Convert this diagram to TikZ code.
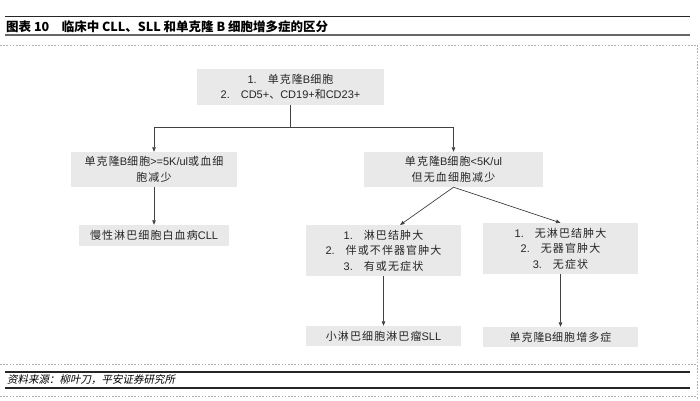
\documentclass[tikz,border=0pt]{standalone}
\usepackage{fontspec}
\usetikzlibrary{arrows.meta}
\setmainfont{Liberation Sans}
\newfontfamily\zhfont[LetterSpace=10]{Noto Sans CJK SC}
\newfontfamily\zhtitle{Noto Sans CJK SC}
\newfontfamily\zhit[FakeSlant=0.2]{Noto Sans CJK SC}
\newcommand\zh[1]{{\zhfont #1}}
\definecolor{boxfill}{HTML}{E9E9E9}
\definecolor{linec}{HTML}{404040}
\tikzset{
  box/.style={fill=boxfill, draw=none, inner sep=0pt, align=center,
    font=\fontsize{11}{15.5}\selectfont, text=black!85},
  conn/.style={draw=linec, line width=0.7pt},
  arr/.style={conn, -{Triangle[length=4.5pt,width=3.5pt]}},
  dotl/.style={draw=black!30, line width=0.8pt, dash pattern=on 1.6pt off 1.6pt},
}
\begin{document}
\begin{tikzpicture}[x=1pt,y=-1pt]
\path[use as bounding box] (0,0) rectangle (700,400);
% page frame lines
\draw[black!85, line width=0.8pt] (5,16) -- (690,16);
\draw[black!60, line width=2pt] (5,35) -- (690,35);
\draw[dotl] (0,45) -- (697,45);
\draw[dotl] (697,45) -- (697,400);
\draw[dotl] (0,364) -- (697,364);
\draw[black!85, line width=1.1pt] (5,372) -- (690,372);
\draw[black!85, line width=1.1pt] (5,388) -- (690,388);
\draw[dotl] (0,396) -- (697,396);
% title
\node[anchor=west, inner sep=0pt, font=\zhtitle\bfseries\fontsize{12.5}{14}\selectfont] (title) at (6,26.5)
  {图表 10\hspace{1em}临床中 CLL、SLL 和单克隆 B 细胞增多症的区分};
% source
\node[anchor=west, inner sep=0pt, font=\zhit\fontsize{10.5}{12}\selectfont] (src) at (7,380)
  {资料来源：柳叶刀，平安证券研究所};
% boxes
\node[box, minimum width=187pt, minimum height=36pt] (top) at (290.5,87)
  {1.\quad\zh{单克隆}B\zh{细胞}\\2.\quad CD5+\zh{、}CD19+\zh{和}CD23+};
\node[box, minimum width=166pt, minimum height=35pt] (L1) at (154,169.5)
  {\zh{单克隆}B\zh{细胞}>=5K/ul\zh{或血细}\\\zh{胞减少}};
\node[box, minimum width=150pt, minimum height=21pt] (CLL) at (154,235.5)
  {\zh{慢性淋巴细胞白血病}CLL};
\node[box, minimum width=179pt, minimum height=35pt] (R1) at (453.5,169.5)
  {\zh{单克隆}B\zh{细胞}<5K/ul\\\zh{但无血细胞减少}};
\node[box, minimum width=155pt, minimum height=51pt] (A) at (383.5,250.5)
  {1.\quad\zh{淋巴结肿大}\\2.\quad\zh{伴或不伴器官肿大}\\3.\quad\zh{有或无症状}};
\node[box, minimum width=155pt, minimum height=51pt] (B) at (560.5,248.5)
  {1.\quad\zh{无淋巴结肿大}\\2.\quad\zh{无器官肿大}\\3.\quad\zh{无症状}};
\node[box, minimum width=155pt, minimum height=20pt] (SLL) at (383.5,336)
  {\zh{小淋巴细胞淋巴瘤}SLL};
\node[box, minimum width=155pt, minimum height=20pt] (MBL) at (560.5,337)
  {\zh{单克隆}B\zh{细胞增多症}};
% connectors
\coordinate (j) at (290.5,127);
\coordinate (Ain) at (400,225);
\draw[conn] (top.south) -- (j);
\draw[arr] (j) -| (L1.north);
\draw[arr] (j) -| (R1.north);
\draw[arr] (L1.south) -- (CLL.north);
\draw[arr] (R1.south) -- (Ain);
\draw[arr] (R1.south) -- (B.north);
\draw[arr] (A.south) -- (SLL.north);
\draw[arr] (B.south) -- (MBL.north);
\end{tikzpicture}
\end{document}
